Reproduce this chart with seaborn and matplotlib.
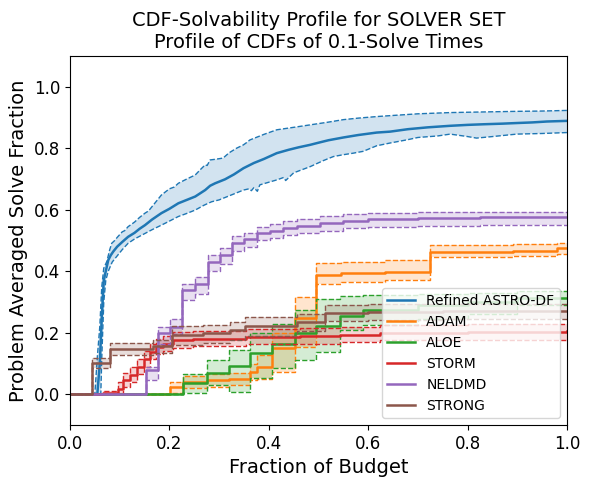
import matplotlib
matplotlib.use("Agg")
import matplotlib.pyplot as plt
import seaborn as sns

# Refined ASTRO-DF (very fine steps, drawn as a continuous line)
astro_x = [0.0, 0.055, 0.060, 0.064, 0.068, 0.072, 0.077, 0.082, 0.087, 0.095, 0.105, 0.117,
           0.130, 0.140, 0.151, 0.165, 0.184, 0.200, 0.218, 0.235, 0.252, 0.272, 0.282, 0.292,
           0.312, 0.330, 0.349, 0.370, 0.390, 0.416, 0.440, 0.460, 0.483, 0.500, 0.520, 0.550,
           0.580, 0.617, 0.644, 0.680, 0.720, 0.765, 0.800, 0.832, 0.870, 0.899, 0.930, 0.960, 1.0]
astro_mean = [0.0, 0.0, 0.10, 0.25, 0.37, 0.40, 0.436, 0.452, 0.464, 0.48, 0.495, 0.512,
              0.525, 0.538, 0.550, 0.568, 0.589, 0.603, 0.621, 0.632, 0.643, 0.664, 0.678, 0.686,
              0.699, 0.715, 0.735, 0.752, 0.765, 0.784, 0.795, 0.803, 0.811, 0.818, 0.826, 0.835,
              0.843, 0.851, 0.854, 0.862, 0.868, 0.873, 0.876, 0.878, 0.880, 0.882, 0.884, 0.887, 0.889]
astro_up_x = [0.0, 0.050, 0.055, 0.060, 0.064, 0.068, 0.074, 0.080, 0.084, 0.090, 0.095, 0.105,
              0.110, 0.117, 0.130, 0.140, 0.151, 0.158, 0.165, 0.175, 0.184, 0.200, 0.210, 0.218,
              0.235, 0.252, 0.262, 0.272, 0.276, 0.282, 0.292, 0.308, 0.320, 0.335, 0.349, 0.355,
              0.362, 0.390, 0.416, 0.450, 0.483, 0.520, 0.550, 0.580, 0.617, 0.644, 0.700, 0.765,
              0.830, 0.899, 0.950, 1.0]
astro_upper = [0.0, 0.0, 0.12, 0.22, 0.35, 0.41, 0.431, 0.47, 0.491, 0.50, 0.51, 0.528,
               0.532, 0.545, 0.56, 0.575, 0.589, 0.596, 0.61, 0.63, 0.648, 0.668, 0.674, 0.686,
               0.70, 0.713, 0.73, 0.746, 0.744, 0.762, 0.764, 0.768, 0.785, 0.80, 0.811, 0.818,
               0.827, 0.845, 0.860, 0.868, 0.876, 0.885, 0.893, 0.898, 0.903, 0.906, 0.912, 0.916,
               0.918, 0.920, 0.921, 0.923]
astro_lo_x = [0.0, 0.062, 0.064, 0.068, 0.072, 0.077, 0.085, 0.095, 0.105, 0.117, 0.130, 0.151,
              0.165, 0.184, 0.200, 0.218, 0.235, 0.252, 0.270, 0.285, 0.300, 0.320, 0.349, 0.360,
              0.365, 0.370, 0.377, 0.382, 0.416, 0.430, 0.434, 0.450, 0.483, 0.510, 0.530, 0.550,
              0.570, 0.590, 0.617, 0.644, 0.680, 0.700, 0.740, 0.765, 0.800, 0.818, 0.850, 0.899,
              0.950, 1.0]
astro_lower = [0.0, 0.0, 0.12, 0.30, 0.37, 0.40, 0.43, 0.45, 0.47, 0.491, 0.505, 0.523,
               0.535, 0.550, 0.563, 0.578, 0.588, 0.599, 0.615, 0.626, 0.632, 0.645, 0.664, 0.668,
               0.662, 0.672, 0.660, 0.681, 0.697, 0.705, 0.695, 0.72, 0.740, 0.76, 0.773, 0.779,
               0.784, 0.79, 0.808, 0.817, 0.828, 0.835, 0.84, 0.846, 0.838, 0.833, 0.838, 0.846,
               0.848, 0.851]

# ADAM
adam_x = [0.0, 0.201, 0.228, 0.275, 0.319, 0.362, 0.376, 0.406, 0.453, 0.496, 0.546, 0.634,
          0.724, 0.892, 0.979, 1.0]
adam_mean = [0.0, 0.022, 0.04, 0.046, 0.051, 0.073, 0.089, 0.149, 0.247, 0.388, 0.393, 0.398,
             0.464, 0.467, 0.475, 0.475]
adam_upper = [0.0, 0.04, 0.058, 0.065, 0.07, 0.10, 0.127, 0.198, 0.317, 0.426, 0.43, 0.435,
              0.485, 0.488, 0.492, 0.492]
adam_lower = [0.0, 0.005, 0.02, 0.022, 0.03, 0.045, 0.051, 0.073, 0.154, 0.36, 0.365, 0.37,
              0.445, 0.448, 0.455, 0.455]

# ALOE
aloe_x = [0.0, 0.228, 0.275, 0.319, 0.362, 0.406, 0.453, 0.496, 0.543, 0.590, 0.700, 0.800,
          0.900, 1.0]
aloe_mean = [0.0, 0.035, 0.07, 0.092, 0.135, 0.165, 0.20, 0.221, 0.255, 0.274, 0.29, 0.30,
             0.314, 0.314]
aloe_upper = [0.0, 0.065, 0.11, 0.143, 0.198, 0.23, 0.274, 0.31, 0.318, 0.322, 0.325, 0.33,
              0.335, 0.335]
aloe_lower = [0.0, 0.005, 0.03, 0.007, 0.052, 0.085, 0.11, 0.138, 0.208, 0.225, 0.245, 0.26,
              0.29, 0.29]

# STORM
storm_x = [0.0, 0.067, 0.097, 0.107, 0.121, 0.134, 0.148, 0.161, 0.174, 0.188, 0.208, 0.248,
           0.355, 0.463, 0.543, 0.624, 0.800, 1.0]
storm_mean = [0.0, 0.003, 0.018, 0.046, 0.062, 0.089, 0.116, 0.138, 0.154, 0.165, 0.176, 0.181,
              0.187, 0.189, 0.194, 0.198, 0.202, 0.205]
storm_upper = [0.0, 0.01, 0.04, 0.07, 0.087, 0.115, 0.14, 0.162, 0.18, 0.19, 0.202, 0.206,
               0.212, 0.215, 0.22, 0.224, 0.228, 0.23]
storm_lower = [0.0, 0.0, 0.0, 0.025, 0.04, 0.065, 0.09, 0.115, 0.13, 0.14, 0.15, 0.156,
               0.162, 0.165, 0.17, 0.175, 0.178, 0.18]

# NELDMD
nel_x = [0.0, 0.152, 0.178, 0.201, 0.226, 0.251, 0.277, 0.302, 0.327, 0.350, 0.377, 0.402,
         0.429, 0.456, 0.503, 0.550, 0.600, 0.700, 0.825, 1.0]
nel_mean = [0.0, 0.078, 0.20, 0.219, 0.339, 0.358, 0.429, 0.453, 0.493, 0.504, 0.523, 0.531,
            0.540, 0.547, 0.556, 0.564, 0.569, 0.572, 0.575, 0.575]
nel_upper = [0.0, 0.09, 0.22, 0.245, 0.36, 0.38, 0.452, 0.475, 0.515, 0.525, 0.545, 0.553,
             0.562, 0.57, 0.58, 0.585, 0.59, 0.594, 0.594, 0.594]
nel_lower = [0.0, 0.045, 0.165, 0.195, 0.306, 0.327, 0.40, 0.425, 0.465, 0.478, 0.50, 0.508,
             0.518, 0.525, 0.532, 0.54, 0.545, 0.548, 0.55, 0.55]

# STRONG
strong_x = [0.0, 0.044, 0.080, 0.168, 0.205, 0.268, 0.322, 0.352, 0.456, 0.513, 0.600, 0.750, 1.0]
strong_mean = [0.0, 0.102, 0.146, 0.156, 0.192, 0.198, 0.208, 0.222, 0.236, 0.265, 0.268, 0.27, 0.27]
strong_upper = [0.0, 0.117, 0.167, 0.177, 0.222, 0.226, 0.236, 0.25, 0.262, 0.29, 0.292, 0.294, 0.294]
strong_lower = [0.0, 0.085, 0.127, 0.135, 0.16, 0.168, 0.178, 0.19, 0.205, 0.238, 0.242, 0.245, 0.245]

step_solvers = [
    ("ADAM", adam_x, adam_mean, adam_upper, adam_lower),
    ("ALOE", aloe_x, aloe_mean, aloe_upper, aloe_lower),
    ("STORM", storm_x, storm_mean, storm_upper, storm_lower),
    ("NELDMD", nel_x, nel_mean, nel_upper, nel_lower),
    ("STRONG", strong_x, strong_mean, strong_upper, strong_lower),
]
names = ["Refined ASTRO-DF"] + [s[0] for s in step_solvers]

colors = sns.color_palette("tab10", 6)

fig, ax = plt.subplots(figsize=(5.9, 4.84), dpi=100)
fig.subplots_adjust(left=0.1186, right=0.961, top=0.8843, bottom=0.1219)

handles = []

# Refined ASTRO-DF
c = colors[0]
sns.lineplot(x=astro_x, y=astro_mean, ax=ax, color=c, linewidth=1.8, errorbar=None, sort=False)
handles.append(ax.lines[-1])
sns.lineplot(x=astro_up_x, y=astro_upper, ax=ax, color=c, linewidth=1, linestyle="--",
             errorbar=None, sort=False)
sns.lineplot(x=astro_lo_x, y=astro_lower, ax=ax, color=c, linewidth=1, linestyle="--",
             errorbar=None, sort=False)
ax.fill(astro_up_x + astro_lo_x[::-1], astro_upper + astro_lower[::-1], color=c, alpha=0.2,
        linewidth=0)

# the other solvers are coarse step functions
for (name, x, m, up, lo), c in zip(step_solvers, colors[1:]):
    sns.lineplot(x=x, y=m, ax=ax, color=c, linewidth=1.8, drawstyle="steps-post",
                 errorbar=None, sort=False)
    handles.append(ax.lines[-1])
    sns.lineplot(x=x, y=up, ax=ax, color=c, linewidth=1, linestyle="--",
                 drawstyle="steps-post", errorbar=None, sort=False)
    sns.lineplot(x=x, y=lo, ax=ax, color=c, linewidth=1, linestyle="--",
                 drawstyle="steps-post", errorbar=None, sort=False)
    ax.fill_between(x, lo, up, step="post", color=c, alpha=0.2, linewidth=0)

ax.set_xlim(0, 1)
ax.set_ylim(-0.1, 1.1)
ax.set_xlabel("Fraction of Budget", fontsize=14)
ax.set_ylabel("Problem Averaged Solve Fraction", fontsize=14)
ax.set_title("CDF-Solvability Profile for SOLVER SET\nProfile of CDFs of 0.1-Solve Times", fontsize=14)
ax.tick_params(labelsize=12)
ax.legend(handles, names, loc="lower right", fontsize=10)

fig.savefig("out.png", dpi=100)
